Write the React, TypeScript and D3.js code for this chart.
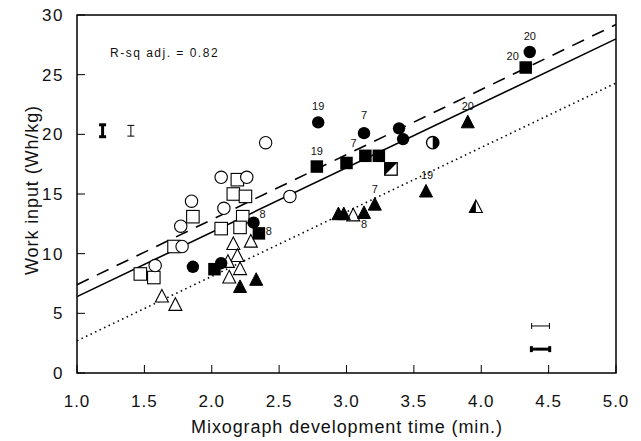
import React from "react";
import * as d3 from "d3";

// axis ticks
const xTicks = [1.0, 1.5, 2.0, 2.5, 3.0, 3.5, 4.0, 4.5, 5.0];
const yTicks = [0, 5, 10, 15, 20, 25, 30];

// points, one array per symbol
const filledCircles: [number, number][] = [
  [2.79, 21.0], [3.13, 20.1], [3.39, 20.5], [3.42, 19.6], [4.36, 26.9],
  [1.86, 8.9], [2.07, 9.2], [2.31, 12.6],
];
const filledSquares: [number, number][] = [
  [2.78, 17.3], [3.0, 17.6], [3.14, 18.2], [3.24, 18.2], [4.33, 25.6],
  [2.02, 8.7], [2.35, 11.7],
];
const filledTriangles: [number, number][] = [
  [3.9, 21.0], [3.59, 15.2], [3.21, 14.1], [2.94, 13.3], [2.98, 13.3],
  [3.13, 13.4], [2.21, 7.2], [2.33, 7.8],
];
const openCircles: [number, number][] = [
  [2.4, 19.3], [2.07, 16.4], [2.26, 16.4], [1.85, 14.4], [2.09, 13.8],
  [1.77, 12.3], [2.58, 14.8], [1.58, 9.0], [1.78, 10.6],
];
const openSquares: [number, number][] = [
  [2.19, 16.2], [2.16, 15.0], [2.25, 14.8], [1.86, 13.1], [2.23, 13.1],
  [2.07, 12.1], [2.21, 12.2], [1.72, 10.6], [1.47, 8.3], [1.57, 8.0],
];
const openTriangles: [number, number][] = [
  [1.63, 6.4], [1.73, 5.7], [2.16, 10.8], [2.29, 11.0], [2.19, 9.8],
  [2.12, 9.3], [2.21, 8.7], [2.13, 8.0], [3.05, 13.2],
];
const halfCircles: [number, number][] = [[3.64, 19.3]];
const halfSquares: [number, number][] = [[3.33, 17.1]];
const halfTriangles: [number, number][] = [[3.96, 13.9]];

// labels beside some points: text, x, y, dx, dy (px)
const pointLabels: [string, number, number, number, number][] = [
  ["19", 2.79, 21.0, 0, -12],
  ["19", 2.78, 17.3, 0, -12],
  ["7", 3.13, 20.1, 0, -14],
  ["7", 3.0, 17.6, 7, -16],
  ["20", 4.36, 26.9, 0, -12],
  ["20", 4.33, 25.6, -13, -8],
  ["20", 3.9, 21.0, 0, -12],
  ["19", 3.59, 15.2, 1, -13],
  ["7", 3.21, 14.1, 0, -12],
  ["8", 3.13, 13.4, 0, 15],
  ["8", 2.31, 12.6, 9, -5],
  ["8", 2.35, 11.7, 10, 2],
];

// fitted lines (value at x=1 and x=5)
const solidFit: [number, number][] = [[1, 6.4], [5, 28.0]];
const dashedFit: [number, number][] = [[1, 7.4], [5, 29.2]];
const dottedFit: [number, number][] = [[1, 2.7], [5, 24.3]];

// error bars: x, y, half-length
const vBars: [number, number, number, number][] = [
  [1.19, 20.3, 0.5, 3],
  [1.4, 20.3, 0.45, 1],
];
const hBars: [number, number, number, number][] = [
  [4.44, 3.94, 0.066, 1],
  [4.44, 2.0, 0.068, 3],
];

const W = 641;
const H = 441;
const left = 77, right = 616, top = 15, bottom = 373;
const font = "'Liberation Sans', Arial, sans-serif";

export default function App() {
  const x = d3.scaleLinear().domain([1, 5]).range([left, right]);
  const y = d3.scaleLinear().domain([0, 30]).range([bottom, top]);
  const line = d3.line<[number, number]>().x((d) => x(d[0])).y((d) => y(d[1]));

  const r = 6.2;
  const s = 12.5;
  const tri = (cx: number, cy: number) => {
    const h = 12;
    return `M${cx},${cy - h * 0.6} L${cx + 6.5},${cy + h * 0.45} L${cx - 6.5},${cy + h * 0.45} Z`;
  };

  return (
    <svg width={W} height={H} style={{ position: "absolute", left: 0, top: 0, background: "#fff" }}>
      {/* frame */}
      <rect x={left} y={top} width={right - left} height={bottom - top} fill="none" stroke="#000" strokeWidth={1.5} />

      {/* ticks */}
      {xTicks.map((t) => (
        <g key={"x" + t}>
          <line x1={x(t)} x2={x(t)} y1={bottom} y2={bottom - 8} stroke="#000" strokeWidth={1} />
          <text x={x(t)} y={407} textAnchor="middle" fontSize={17} letterSpacing={1} fontFamily={font} fill="#111">
            {t.toFixed(1)}
          </text>
        </g>
      ))}
      {yTicks.map((t) => (
        <g key={"y" + t}>
          <line x1={left} x2={left + 8} y1={y(t)} y2={y(t)} stroke="#000" strokeWidth={1} />
          <text x={64} y={y(t) + 6} textAnchor="end" fontSize={17} letterSpacing={1.5} fontFamily={font} fill="#111">
            {t}
          </text>
        </g>
      ))}

      {/* axis titles */}
      <text x={347} y={433} textAnchor="middle" fontSize={18} letterSpacing={0.9} fontFamily={font} fill="#111">
        Mixograph development time (min.)
      </text>
      <text
        transform={`translate(38,${190}) rotate(-90)`}
        textAnchor="middle"
        fontSize={18}
        letterSpacing={0.9}
        fontFamily={font}
        fill="#111"
      >
        Work input (Wh/kg)
      </text>

      <text x={110} y={57} fontSize={12} letterSpacing={1.5} fontFamily={font} fill="#111">
        R-sq adj. = 0.82
      </text>

      {/* fit lines */}
      <path d={line(dashedFit) ?? ""} fill="none" stroke="#000" strokeWidth={1.6} strokeDasharray="13 9" />
      <path d={line(solidFit) ?? ""} fill="none" stroke="#000" strokeWidth={1.6} />
      <path d={line(dottedFit) ?? ""} fill="none" stroke="#000" strokeWidth={1.6} strokeDasharray="1.5 3.5" />

      {/* open symbols */}
      {openTriangles.map((d, i) => (
        <path key={"ot" + i} d={tri(x(d[0]), y(d[1]))} fill="#fff" stroke="#000" strokeWidth={1.1} />
      ))}
      {openSquares.map((d, i) => (
        <rect key={"os" + i} x={x(d[0]) - s / 2} y={y(d[1]) - s / 2} width={s} height={s} fill="#fff" stroke="#000" strokeWidth={1.1} />
      ))}
      {openCircles.map((d, i) => (
        <circle key={"oc" + i} cx={x(d[0])} cy={y(d[1])} r={r} fill="#fff" stroke="#000" strokeWidth={1.1} />
      ))}

      {/* half-filled symbols */}
      {halfCircles.map((d, i) => {
        const cx = x(d[0]), cy = y(d[1]);
        return (
          <g key={"hc" + i}>
            <circle cx={cx} cy={cy} r={r} fill="#fff" stroke="#000" strokeWidth={1.3} />
            <path d={`M${cx},${cy - r} A${r},${r} 0 0 1 ${cx},${cy + r} Z`} fill="#000" />
          </g>
        );
      })}
      {halfSquares.map((d, i) => {
        const cx = x(d[0]), cy = y(d[1]);
        const h = s / 2;
        return (
          <g key={"hs" + i}>
            <rect x={cx - h} y={cy - h} width={s} height={s} fill="#fff" stroke="#000" strokeWidth={1.3} />
            <path d={`M${cx - h},${cy - h} L${cx + h},${cy - h} L${cx - h},${cy + h} Z`} fill="#000" />
          </g>
        );
      })}
      {halfTriangles.map((d, i) => {
        const cx = x(d[0]), cy = y(d[1]);
        return (
          <g key={"ht" + i}>
            <path d={tri(cx, cy)} fill="#fff" stroke="#000" strokeWidth={1.1} />
            <path d={`M${cx},${cy - 7.2} L${cx},${cy + 5.4} L${cx - 6.5},${cy + 5.4} Z`} fill="#000" />
          </g>
        );
      })}

      {/* filled symbols */}
      {filledTriangles.map((d, i) => (
        <path key={"ft" + i} d={tri(x(d[0]), y(d[1]))} fill="#000" stroke="#000" strokeWidth={1} />
      ))}
      {filledSquares.map((d, i) => (
        <rect key={"fs" + i} x={x(d[0]) - s / 2} y={y(d[1]) - s / 2} width={s} height={s} fill="#000" />
      ))}
      {filledCircles.map((d, i) => (
        <circle key={"fc" + i} cx={x(d[0])} cy={y(d[1])} r={r} fill="#000" />
      ))}

      {/* point labels */}
      {pointLabels.map((d, i) => (
        <text
          key={"pl" + i}
          x={x(d[1]) + d[3]}
          y={y(d[2]) + d[4]}
          textAnchor="middle"
          fontSize={11}
          fontFamily={font}
          fill="#111"
        >
          {d[0]}
        </text>
      ))}

      {/* error bars */}
      {vBars.map((d, i) => {
        const cx = x(d[0]);
        const y1 = y(d[1] + d[2]), y2 = y(d[1] - d[2]);
        return (
          <g key={"vb" + i} stroke="#000" strokeWidth={d[3]}>
            <line x1={cx} x2={cx} y1={y1} y2={y2} />
            <line x1={cx - 3.5} x2={cx + 3.5} y1={y1} y2={y1} />
            <line x1={cx - 3.5} x2={cx + 3.5} y1={y2} y2={y2} />
          </g>
        );
      })}
      {hBars.map((d, i) => {
        const cy = y(d[1]);
        const x1 = x(d[0] - d[2]), x2 = x(d[0] + d[2]);
        return (
          <g key={"hb" + i} stroke="#000" strokeWidth={d[3]}>
            <line x1={x1} x2={x2} y1={cy} y2={cy} />
            <line x1={x1} x2={x1} y1={cy - 3} y2={cy + 3} />
            <line x1={x2} x2={x2} y1={cy - 3} y2={cy + 3} />
          </g>
        );
      })}
    </svg>
  );
}
